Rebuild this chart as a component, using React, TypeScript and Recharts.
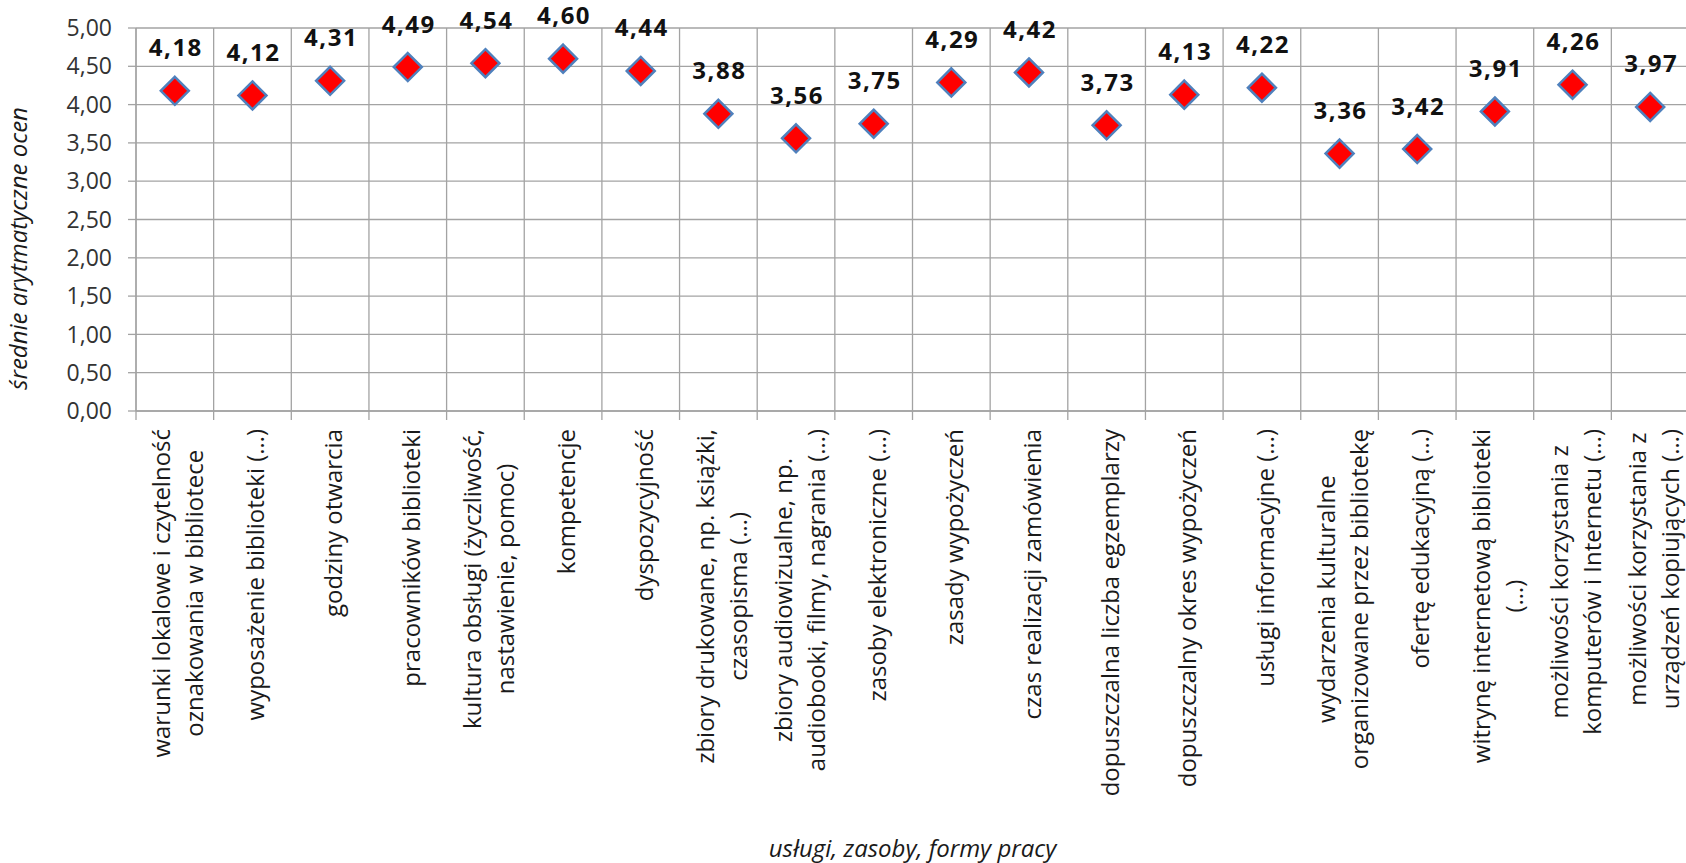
import React from "react";
import { ComposedChart, Scatter, XAxis, YAxis, CartesianGrid, Label } from "recharts";

const categories = [
  "warunki lokalowe i czytelność\noznakowania w bibliotece",
  "wyposażenie biblioteki (…)",
  "godziny otwarcia",
  "pracowników biblioteki",
  "kultura obsługi (życzliwość,\nnastawienie, pomoc)",
  "kompetencje",
  "dyspozycyjność",
  "zbiory drukowane, np. książki,\nczasopisma (…)",
  "zbiory audiowizualne, np.\naudiobooki, filmy, nagrania (…)",
  "zasoby elektroniczne (…)",
  "zasady wypożyczeń",
  "czas realizacji zamówienia",
  "dopuszczalna liczba egzemplarzy",
  "dopuszczalny okres wypożyczeń",
  "usługi informacyjne (…)",
  "wydarzenia kulturalne\norganizowane przez bibliotekę",
  "ofertę edukacyjną (…)",
  "witrynę internetową biblioteki\n(…)",
  "możliwości korzystania z\nkomputerów i Internetu (…)",
  "możliwości korzystania z\nurządzeń kopiujących (…)",
];

const means = [
  4.18, 4.12, 4.31, 4.49, 4.54, 4.6, 4.44, 3.88, 3.56, 3.75,
  4.29, 4.42, 3.73, 4.13, 4.22, 3.36, 3.42, 3.91, 4.26, 3.97,
];

const yTicks = [0, 0.5, 1, 1.5, 2, 2.5, 3, 3.5, 4, 4.5, 5];
const yTitle = "średnie arytmatyczne ocen";
const xTitle = "usługi, zasoby, formy pracy";

// category i sits in the middle of slot [i, i+1]
const data = categories.map((name, i) => ({ name, pos: i + 0.5, value: means[i] }));
const boundaries = categories.map((_, i) => i).concat(categories.length);
const centers = data.map((d) => d.pos);

const FONT = "'Open Sans', sans-serif";
const GRID = "#a3a3a3";
const fmt = (v: number) => v.toFixed(2).replace(".", ",");

let ctx: CanvasRenderingContext2D | null = null;
const textWidth = (s: string) => {
  if (!ctx) {
    ctx = document.createElement("canvas").getContext("2d");
    if (ctx) ctx.font = `24px ${FONT}`;
  }
  return ctx ? ctx.measureText(s).width : s.length * 12;
};

const Diamond = (props: any) => {
  const { cx, cy, payload } = props;
  const r = 14;
  return (
    <g>
      <path
        d={`M ${cx} ${cy - r} L ${cx + r} ${cy} L ${cx} ${cy + r} L ${cx - r} ${cy} Z`}
        fill="#ff0000"
        stroke="#4f81bd"
        strokeWidth={2.5}
      />
      <text
        x={cx + 1}
        y={cy - 34.5}
        textAnchor="middle"
        fontFamily={FONT}
        fontWeight={700}
        fontSize={24}
        letterSpacing={1.5}
        fill="#111"
      >
        {fmt(payload.value)}
      </text>
    </g>
  );
};

const NoTick = () => <g />;

// rotated, multi-line category label: longest line starts at the top, the others centred on it
const CategoryTick = (props: any) => {
  const { x, y, payload } = props;
  const lines = categories[Math.floor(payload.value)].split("\n");
  const n = lines.length;
  const longest = Math.max(...lines.map(textWidth));
  const mid = y + 8 + longest / 2;
  return (
    <g>
      {lines.map((line, i) => (
        <text
          key={i}
          transform={`translate(${x + 12 + (i - (n - 1) / 2) * 33}, ${mid}) rotate(-90)`}
          textAnchor="middle"
          fontFamily={FONT}
          fontSize={24}
          fill="#1a1a1a"
        >
          {line}
        </text>
      ))}
    </g>
  );
};

export default function App() {
  return (
    <div style={{ position: "absolute", left: 0, top: 0, width: 1686, height: 863, overflow: "hidden", background: "#fff" }}>
      <ComposedChart width={1690} height={863} data={data} margin={{ top: 28, right: 1, bottom: 0, left: 0 }}>
        <CartesianGrid xAxisId="grid" stroke={GRID} strokeWidth={1.3} />
        <XAxis
          xAxisId="grid"
          dataKey="pos"
          type="number"
          domain={[0, categories.length]}
          ticks={boundaries}
          interval={0}
          height={10}
          tick={<NoTick />}
          tickSize={9}
          axisLine={{ stroke: GRID, strokeWidth: 1.3 }}
          tickLine={{ stroke: GRID, strokeWidth: 1.3 }}
        />
        <XAxis
          xAxisId="labels"
          dataKey="pos"
          type="number"
          domain={[0, categories.length]}
          ticks={centers}
          interval={0}
          height={442}
          tickSize={0}
          tickMargin={0}
          axisLine={false}
          tickLine={false}
          tick={<CategoryTick />}
        >
          <Label
            content={(p: any) => {
              const vb = p.viewBox;
              return (
                <text
                  x={vb.x + vb.width / 2}
                  y={vb.y + vb.height - 6}
                  textAnchor="middle"
                  fontFamily={FONT}
                  fontStyle="italic"
                  fontSize={24}
                  fill="#1a1a1a"
                >
                  {xTitle}
                </text>
              );
            }}
          />
        </XAxis>
        <YAxis
          domain={[0, 5]}
          ticks={yTicks}
          interval={0}
          width={136}
          tickSize={8}
          tickMargin={16}
          tickFormatter={fmt}
          tick={{ fill: "#333", fontSize: 23, fontFamily: FONT }}
          axisLine={{ stroke: GRID, strokeWidth: 1.3 }}
          tickLine={{ stroke: GRID, strokeWidth: 1.3 }}
        >
          <Label
            content={(p: any) => {
              const vb = p.viewBox;
              const cy = vb.y + vb.height / 2 + 29;
              return (
                <text
                  transform={`translate(${vb.x + 27}, ${cy}) rotate(-90)`}
                  textAnchor="middle"
                  fontFamily={FONT}
                  fontStyle="italic"
                  fontSize={24}
                  fill="#1a1a1a"
                >
                  {yTitle}
                </text>
              );
            }}
          />
        </YAxis>
        <Scatter xAxisId="grid" dataKey="value" shape={<Diamond />} isAnimationActive={false} />
      </ComposedChart>
    </div>
  );
}
